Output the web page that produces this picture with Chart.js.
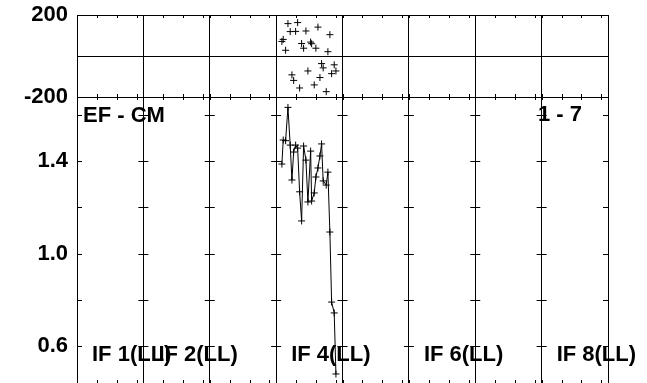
<!DOCTYPE html>
<html>
<head>
<meta charset="utf-8">
<script src="https://cdn.jsdelivr.net/npm/chart.js@4"></script>
<style>
  body { margin: 0; background: #fff; }
</style>
</head>
<body>
<canvas id="grafico" width="647" height="383"></canvas>
<script>
// tempos em unidades de painel (coluna IF)
const tempos = [3.087, 3.107, 3.143, 3.178, 3.212, 3.238, 3.264, 3.294, 3.324, 3.354,
                3.384, 3.414, 3.449, 3.479, 3.520, 3.535, 3.574, 3.599, 3.630, 3.660,
                3.685, 3.709, 3.755, 3.780, 3.810, 3.836, 3.875, 3.901];
const fase = [71, 81, 28, 158, 119, -92, -119, 120, 163, -156,
              61, 38, 122, -73, 68, 60, -141, 38, 141, -105,
              -37, -58, -174, 21, 104, -86, -43, -73];
const amplitude = [1.387, 1.491, 1.488, 1.632, 1.469, 1.318, 1.439, 1.469, 1.456, 1.267,
                   1.141, 1.465, 1.404, 1.223, 1.443, 1.227, 1.262, 1.331, 1.370, 1.422,
                   1.474, 1.314, 1.296, 1.352, 1.093, 0.790, 0.743, 0.479];
const ticksFase = [-200, 0, 200];
const ticksAmp = [0.6, 1.0, 1.4];
const marcasAmp = [0.6, 0.8, 1.0, 1.2, 1.4, 1.6];
const colunas = [0, 1, 2, 3, 4, 5, 6, 7, 8];
const rotulosIF = ['IF 1(LL)', 'IF 2(LL)', 'IF 4(LL)', 'IF 6(LL)', 'IF 8(LL)'];
const colunasIF = [0, 1, 3, 5, 7];
const baseline = 'EF - CM';
const faixa = '1 - 7';

const fonte = { family: '"Liberation Sans", Arial, sans-serif', size: 22, weight: 'bold' };

// tira o espaco extra que o Chart.js reserva para os rotulos das pontas
function semFolga(s, largura) {
    if (largura !== undefined) s.width = largura;
    else s.height = 0;
    s.paddingTop = 0;
    s.paddingBottom = 0;
    s.paddingLeft = 0;
    s.paddingRight = 0;
}

// marcas de escala e textos
const decoracao = {
    id: 'decoracao',
    afterDatasetsDraw(chart) {
        const ctx = chart.ctx, a = chart.chartArea;
        const x = chart.scales.x, ph = chart.scales.ph, amp = chart.scales.amp;
        ctx.save();
        ctx.strokeStyle = '#000';
        ctx.lineWidth = 1;
        ctx.beginPath();
        colunas.forEach(c => {
            const px = x.getPixelForValue(c);
            marcasAmp.forEach(v => {
                const py = Math.round(amp.getPixelForValue(v)) + 0.5;
                ctx.moveTo(Math.max(a.left, px - 5), py);
                ctx.lineTo(Math.min(a.right, px + 5), py);
            });
        });
        // linhas horizontais do painel de fase
        ticksFase.forEach(v => {
            const py = Math.round(ph.getPixelForValue(v)) + 0.5;
            ctx.moveTo(a.left, py);
            ctx.lineTo(a.right, py);
        });
        const yTop = Math.round(ph.getPixelForValue(200));
        const yMid = Math.round(ph.getPixelForValue(-200));
        for (let c = 0; c < 8; c++) {
            [0, 0.3, 0.6, 0.9].forEach(f => {
                const px = Math.round(x.getPixelForValue(c + f)) + 0.5;
                ctx.moveTo(px, yTop); ctx.lineTo(px, yTop + 3);
                ctx.moveTo(px, yMid - 3); ctx.lineTo(px, yMid + 3);
                ctx.moveTo(px, a.bottom); ctx.lineTo(px, a.bottom - 3);
            });
        }
        ctx.stroke();

        ctx.fillStyle = '#000';
        ctx.font = 'bold 22px "Liberation Sans", Arial, sans-serif';
        ctx.textBaseline = 'middle';
        ctx.textAlign = 'left';
        ctx.fillText(baseline, a.left + 6, yMid + 19);
        ctx.textAlign = 'right';
        ctx.fillText(faixa, a.right - 26, yMid + 18);
        ctx.textAlign = 'left';
        const yIF = amp.getPixelForValue(0.6) + 9;
        rotulosIF.forEach((t, i) => {
            ctx.fillText(t, x.getPixelForValue(colunasIF[i]) + 15, yIF);
        });
        ctx.restore();
    }
};

const data = {
    datasets: [{
        label: 'fase',
        data: tempos.map((t, i) => ({ x: t, y: fase[i] })),
        yAxisID: 'ph',
        showLine: false,
        pointStyle: 'cross',
        pointRadius: 3.5,
        pointBorderWidth: 1,
        borderColor: '#000'
    }, {
        label: 'amplitude',
        data: tempos.map((t, i) => ({ x: t, y: amplitude[i] })),
        yAxisID: 'amp',
        showLine: true,
        borderColor: '#000',
        borderWidth: 1,
        pointStyle: 'cross',
        pointRadius: 3.5,
        pointBorderWidth: 1,
        tension: 0
    }]
};

const config = {
    type: 'scatter',
    data: data,
    options: {
        responsive: false,
        animation: false,
        devicePixelRatio: 1,
        layout: {
            autoPadding: false,
            padding: { top: 15, right: 39, bottom: 0, left: 0 }
        },
        plugins: {
            legend: { display: false },
            tooltip: { enabled: false }
        },
        scales: {
            x: {
                type: 'linear',
                min: 0,
                max: 8,
                afterBuildTicks: s => { s.ticks = colunas.map(v => ({ value: v })); },
                afterFit: s => semFolga(s),
                ticks: { display: false },
                grid: { color: '#000', lineWidth: 1, drawTicks: false },
                border: { display: false }
            },
            // painel de baixo vem primeiro (o layout empilha de baixo para cima)
            amp: {
                type: 'linear',
                position: 'left',
                stack: 'painel',
                stackWeight: 286,
                min: 0.44,
                max: 1.677,
                afterBuildTicks: s => { s.ticks = ticksAmp.map(v => ({ value: v })); },
                afterFit: s => semFolga(s, 77),
                ticks: {
                    color: '#000',
                    font: fonte,
                    padding: 9,
                    autoSkip: false,
                    callback: v => v.toFixed(1)
                },
                grid: { display: false, drawTicks: false },
                border: { display: true, color: '#000' }
            },
            ph: {
                type: 'linear',
                position: 'left',
                stack: 'painel',
                stackWeight: 82,
                min: -200,
                max: 200,
                afterBuildTicks: s => { s.ticks = ticksFase.map(v => ({ value: v })); },
                afterFit: s => semFolga(s, 77),
                ticks: {
                    color: '#000',
                    font: fonte,
                    padding: 9,
                    autoSkip: false,
                    callback: v => v === 0 ? '' : v
                },
                grid: { display: false, drawTicks: false },
                border: { display: true, color: '#000' }
            }
        }
    },
    plugins: [decoracao]
};

const ctx = document.getElementById('grafico').getContext('2d');
const myChart = new Chart(ctx, config);
</script>
</body>
</html>
